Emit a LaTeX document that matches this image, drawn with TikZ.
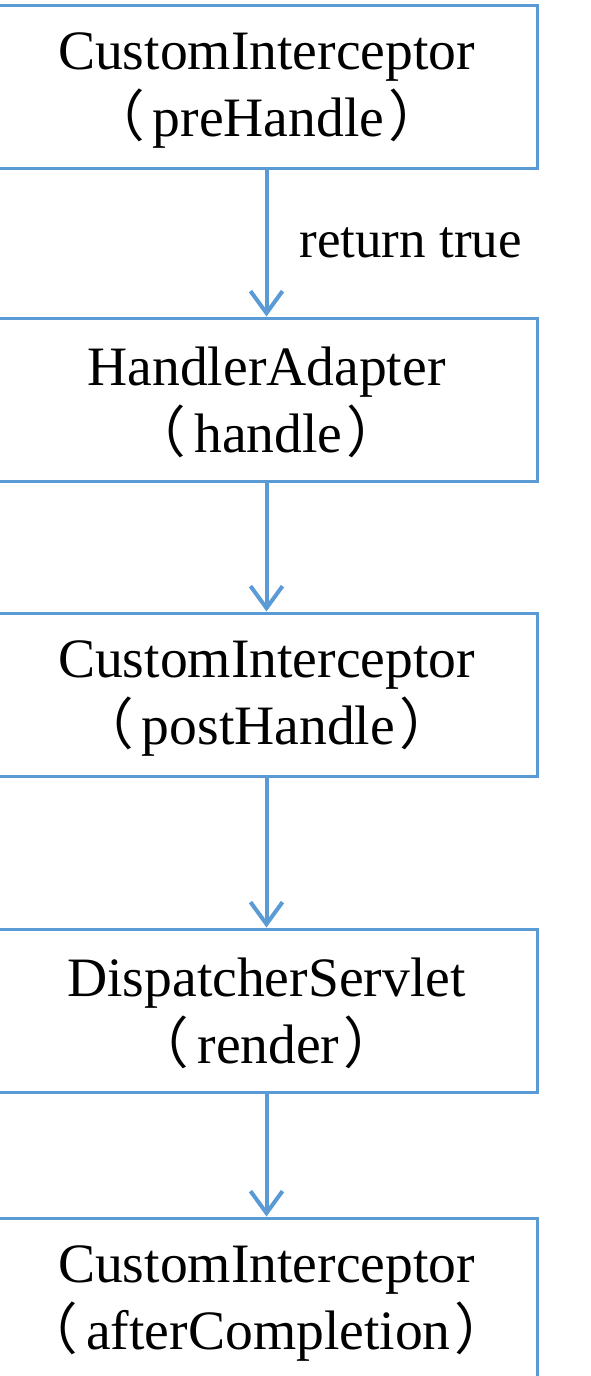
\documentclass[tikz,border=0pt]{standalone}
\usepackage{fontspec}
\setmainfont{Liberation Serif}
\newfontfamily\cjk{Noto Sans CJK SC}
\usetikzlibrary{arrows.meta}
\definecolor{lineblue}{RGB}{91,155,213}
\newcommand{\lp}{{\cjk （}\hspace{8pt}}
\newcommand{\rp}{\hspace{4pt}{\cjk ）}}
\newcommand{\topgap}{\rule{0pt}{45pt}}

\begin{document}
\begin{tikzpicture}[x=1pt, y=-1pt,
	stepbox/.style={draw=lineblue, line width=3pt, minimum width=541pt, minimum height=163pt, align=center, inner sep=0pt, font=\fontsize{55.6}{67}\selectfont},
	flow/.style={-{Straight Barb[length=22pt, width=32pt, line width=4pt]}, line width=4pt, lineblue}]
	\useasboundingbox (0,0) rectangle (590,1376);
	\node[stepbox] (pre) at (266.5,86.5) {\topgap CustomInterceptor\\\lp preHandle\rp};
	\node[stepbox] (handle) at (266.5,399.5) {\topgap HandlerAdapter\\\lp handle\rp};
	\node[stepbox] (post) at (266.5,694.5) {\topgap CustomInterceptor\\\lp postHandle\rp};
	\node[stepbox] (render) at (266.5,1010.5) {\topgap DispatcherServlet\\\lp render\rp};
	\node[stepbox] (after) at (266.5,1299.5) {\topgap CustomInterceptor\\\lp afterCompletion\rp};
	
	\draw[flow] (pre) -- node[right, xshift=31pt, text=black, font=\fontsize{53}{60}\selectfont, inner sep=0pt] (ret) {return true} (handle);
	\draw[flow] (handle) -- (post);
	\draw[flow] (post) -- (render);
	\draw[flow] (render) -- (after);
\end{tikzpicture}
\end{document}
